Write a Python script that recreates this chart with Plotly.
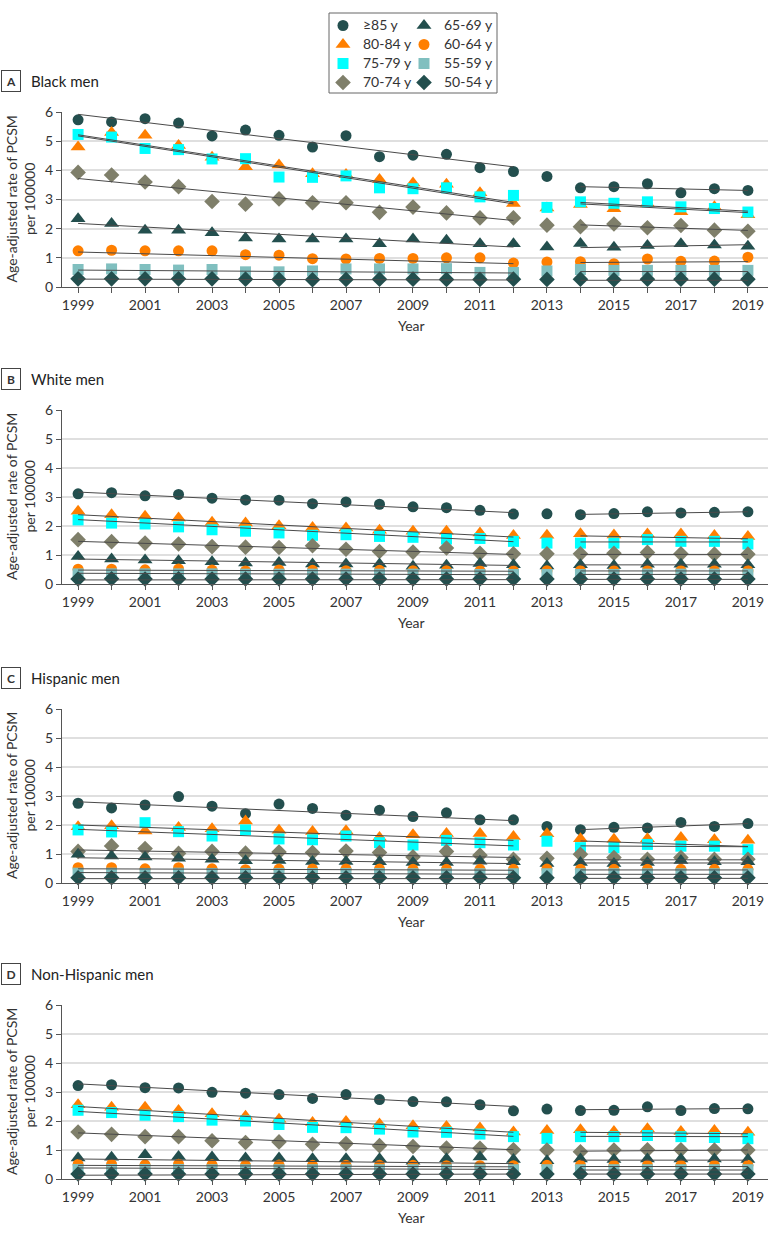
import plotly.graph_objects as go

# ---------------- data ----------------
years = list(range(1999, 2020))
year_labels = [str(y) if y % 2 == 1 else "" for y in years]
age_groups = ["≥85 y", "80-84 y", "75-79 y", "70-74 y", "65-69 y", "60-64 y", "55-59 y", "50-54 y"]
panel_titles = ["Black men", "White men", "Hispanic men", "Non-Hispanic men"]
panel_letters = ["A", "B", "C", "D"]
trend_years_1 = [1999, 2012]
trend_years_2 = [2014, 2019]

# Panel A - Black men
black_85 = [5.73, 5.66, 5.77, 5.62, 5.18, 5.38, 5.20, 4.80, 5.19, 4.47, 4.52, 4.55, 4.09, 3.96, 3.79, 3.40, 3.44, 3.54, 3.23, 3.37, 3.31]
black_80 = [4.80, 5.30, 5.20, 4.85, 4.45, 4.12, 4.18, 3.88, 3.86, 3.69, 3.57, 3.52, 3.23, 2.86, 2.71, 2.83, 2.68, 2.86, 2.58, 2.75, 2.48]
black_75 = [5.23, 5.14, 4.75, 4.71, 4.39, 4.40, 3.77, 3.76, 3.81, 3.40, 3.37, 3.40, 3.09, 3.14, 2.73, 2.92, 2.87, 2.92, 2.75, 2.69, 2.57]
black_70 = [3.93, 3.84, 3.60, 3.44, 2.93, 2.84, 3.02, 2.89, 2.89, 2.56, 2.74, 2.54, 2.37, 2.37, 2.12, 2.07, 2.16, 2.03, 2.11, 1.95, 1.91]
black_65 = [2.34, 2.18, 1.95, 1.95, 1.86, 1.68, 1.65, 1.65, 1.65, 1.48, 1.65, 1.60, 1.48, 1.48, 1.37, 1.49, 1.36, 1.42, 1.48, 1.44, 1.40]
black_60 = [1.24, 1.26, 1.24, 1.24, 1.24, 1.11, 1.09, 0.97, 0.96, 0.98, 0.98, 1.00, 1.00, 0.82, 0.86, 0.87, 0.80, 0.96, 0.88, 0.89, 1.02]
black_55 = [0.60, 0.62, 0.60, 0.58, 0.60, 0.52, 0.52, 0.55, 0.62, 0.62, 0.62, 0.63, 0.50, 0.50, 0.55, 0.60, 0.57, 0.57, 0.57, 0.57, 0.57]
black_50 = [0.28, 0.28, 0.28, 0.28, 0.28, 0.27, 0.26, 0.25, 0.26, 0.27, 0.27, 0.26, 0.26, 0.27, 0.26, 0.27, 0.25, 0.27, 0.27, 0.27, 0.27]
black_trend_1999 = [5.92, 5.18, 5.22, 3.72, 2.18, 1.20, 0.58, 0.27]
black_trend_2012 = [4.12, 2.85, 2.90, 2.28, 1.37, 0.80, 0.48, 0.24]
black_trend_2014 = [3.44, 2.85, 2.90, 2.13, 1.35, 0.84, 0.53, 0.23]
black_trend_2019 = [3.31, 2.55, 2.60, 1.94, 1.45, 0.87, 0.53, 0.23]

# Panel B - White men
white_85 = [3.11, 3.15, 3.04, 3.09, 2.96, 2.90, 2.89, 2.77, 2.83, 2.75, 2.66, 2.63, 2.54, 2.41, 2.42, 2.39, 2.43, 2.49, 2.45, 2.47, 2.49]
white_80 = [2.51, 2.39, 2.34, 2.28, 2.13, 2.10, 2.01, 1.95, 1.93, 1.85, 1.82, 1.82, 1.76, 1.67, 1.68, 1.73, 1.69, 1.72, 1.72, 1.67, 1.64]
white_75 = [2.21, 2.10, 2.07, 1.97, 1.87, 1.82, 1.76, 1.68, 1.70, 1.64, 1.61, 1.55, 1.57, 1.47, 1.41, 1.41, 1.41, 1.53, 1.47, 1.47, 1.38]
white_70 = [1.53, 1.46, 1.41, 1.38, 1.29, 1.27, 1.26, 1.32, 1.20, 1.12, 1.10, 1.24, 1.06, 1.04, 1.04, 1.04, 1.06, 1.09, 1.04, 1.03, 1.03]
white_65 = [0.95, 0.86, 0.83, 0.80, 0.77, 0.72, 0.74, 0.69, 0.69, 0.69, 0.61, 0.65, 0.71, 0.66, 0.62, 0.66, 0.64, 0.68, 0.68, 0.68, 0.66]
white_60 = [0.51, 0.51, 0.49, 0.52, 0.48, 0.45, 0.48, 0.47, 0.46, 0.47, 0.46, 0.46, 0.45, 0.45, 0.46, 0.46, 0.46, 0.46, 0.46, 0.46, 0.46]
white_55 = [0.35, 0.35, 0.35, 0.35, 0.35, 0.34, 0.34, 0.34, 0.34, 0.34, 0.34, 0.33, 0.33, 0.33, 0.33, 0.33, 0.33, 0.34, 0.34, 0.34, 0.34]
white_50 = [0.17, 0.18, 0.17, 0.18, 0.17, 0.17, 0.17, 0.17, 0.17, 0.17, 0.17, 0.17, 0.17, 0.17, 0.17, 0.17, 0.17, 0.17, 0.17, 0.17, 0.17]
white_trend_1999 = [3.17, 2.39, 2.22, 1.47, 0.86, 0.48, 0.37, 0.14]
white_trend_2012 = [2.46, 1.62, 1.46, 1.02, 0.64, 0.44, 0.32, 0.15]
white_trend_2014 = [2.40, 1.66, 1.45, 1.02, 0.66, 0.45, 0.33, 0.16]
white_trend_2019 = [2.49, 1.56, 1.45, 1.02, 0.66, 0.45, 0.33, 0.16]

# Panel C - Hispanic men
hisp_85 = [2.75, 2.59, 2.69, 2.98, 2.65, 2.39, 2.72, 2.57, 2.34, 2.51, 2.29, 2.42, 2.18, 2.18, 1.95, 1.84, 1.92, 1.90, 2.09, 1.95, 2.05]
hisp_80 = [1.94, 1.97, 1.79, 1.91, 1.87, 2.14, 1.82, 1.78, 1.80, 1.57, 1.66, 1.71, 1.71, 1.60, 1.70, 1.53, 1.51, 1.53, 1.57, 1.49, 1.47]
hisp_75 = [1.83, 1.76, 2.08, 1.77, 1.62, 1.83, 1.52, 1.49, 1.62, 1.39, 1.31, 1.47, 1.39, 1.31, 1.44, 1.22, 1.22, 1.33, 1.27, 1.27, 1.15]
hisp_70 = [1.09, 1.28, 1.19, 1.02, 1.09, 1.03, 1.07, 1.05, 1.10, 1.05, 0.90, 1.09, 0.96, 0.82, 0.85, 0.99, 0.88, 0.82, 0.88, 0.82, 0.82]
hisp_65 = [0.99, 0.93, 0.90, 0.85, 0.82, 0.77, 0.78, 0.74, 0.74, 0.73, 0.71, 0.71, 0.75, 0.73, 0.67, 0.71, 0.67, 0.71, 0.78, 0.73, 0.73]
hisp_60 = [0.53, 0.53, 0.49, 0.53, 0.49, 0.46, 0.48, 0.48, 0.48, 0.48, 0.47, 0.47, 0.47, 0.47, 0.48, 0.47, 0.47, 0.47, 0.47, 0.47, 0.47]
hisp_55 = [0.34, 0.34, 0.33, 0.34, 0.33, 0.33, 0.33, 0.33, 0.33, 0.33, 0.32, 0.32, 0.32, 0.32, 0.32, 0.32, 0.32, 0.32, 0.32, 0.32, 0.32]
hisp_50 = [0.18, 0.18, 0.18, 0.18, 0.18, 0.18, 0.18, 0.18, 0.18, 0.18, 0.18, 0.18, 0.18, 0.18, 0.18, 0.18, 0.18, 0.18, 0.18, 0.18, 0.18]
hisp_trend_1999 = [2.80, 2.00, 1.85, 1.14, 0.87, 0.49, 0.36, 0.15]
hisp_trend_2012 = [2.15, 1.47, 1.28, 0.88, 0.67, 0.44, 0.30, 0.15]
hisp_trend_2014 = [1.84, 1.45, 1.28, 0.80, 0.69, 0.45, 0.30, 0.16]
hisp_trend_2019 = [2.05, 1.26, 1.25, 0.80, 0.69, 0.45, 0.30, 0.16]

# Panel D - Non-Hispanic men
nonhisp_85 = [3.22, 3.25, 3.15, 3.14, 2.99, 2.96, 2.91, 2.78, 2.91, 2.74, 2.67, 2.66, 2.56, 2.35, 2.41, 2.36, 2.37, 2.49, 2.36, 2.43, 2.42]
nonhisp_80 = [2.56, 2.47, 2.47, 2.36, 2.25, 2.16, 2.06, 1.95, 1.98, 1.90, 1.84, 1.81, 1.76, 1.62, 1.67, 1.70, 1.64, 1.73, 1.64, 1.67, 1.61]
nonhisp_75 = [2.37, 2.29, 2.20, 2.15, 2.03, 2.00, 1.88, 1.78, 1.77, 1.72, 1.62, 1.61, 1.55, 1.46, 1.40, 1.46, 1.46, 1.50, 1.46, 1.43, 1.39]
nonhisp_70 = [1.62, 1.54, 1.46, 1.46, 1.32, 1.26, 1.28, 1.20, 1.22, 1.15, 1.12, 1.07, 1.06, 1.01, 1.00, 0.94, 1.00, 1.01, 1.01, 1.00, 1.00]
nonhisp_65 = [0.72, 0.75, 0.84, 0.78, 0.76, 0.72, 0.72, 0.70, 0.70, 0.70, 0.61, 0.70, 0.76, 0.67, 0.63, 0.69, 0.67, 0.69, 0.69, 0.69, 0.67]
nonhisp_60 = [0.50, 0.50, 0.49, 0.51, 0.49, 0.47, 0.48, 0.47, 0.47, 0.47, 0.47, 0.46, 0.46, 0.46, 0.47, 0.47, 0.47, 0.47, 0.47, 0.47, 0.47]
nonhisp_55 = [0.33, 0.33, 0.33, 0.33, 0.32, 0.32, 0.32, 0.32, 0.32, 0.32, 0.32, 0.32, 0.32, 0.32, 0.32, 0.32, 0.32, 0.32, 0.32, 0.32, 0.32]
nonhisp_50 = [0.17, 0.17, 0.17, 0.17, 0.17, 0.17, 0.17, 0.17, 0.17, 0.17, 0.17, 0.17, 0.17, 0.17, 0.17, 0.17, 0.17, 0.17, 0.17, 0.17, 0.17]
nonhisp_trend_1999 = [3.28, 2.50, 2.33, 1.59, 0.69, 0.47, 0.38, 0.13]
nonhisp_trend_2012 = [2.50, 1.61, 1.47, 1.01, 0.53, 0.42, 0.33, 0.17]
nonhisp_trend_2014 = [2.39, 1.61, 1.47, 0.96, 0.65, 0.43, 0.31, 0.17]
nonhisp_trend_2019 = [2.43, 1.56, 1.46, 1.00, 0.65, 0.43, 0.31, 0.17]

# ---------------- styling ----------------
DARK = "#234f4e"
ORANGE = "#ff7f00"
CYAN = "#00ffff"
LTEAL = "#80bfbf"
OLIVE = "#7f7f6a"
colors = [DARK, ORANGE, CYAN, OLIVE, DARK, ORANGE, LTEAL, DARK]
symbols = ["circle", "triangle-up", "square", "diamond", "triangle-up", "circle", "square", "diamond"]
sizes = [11, 13, 11, 12, 13, 11, 11, 12]
legend_ids = ["legend", "legend", "legend", "legend", "legend2", "legend2", "legend2", "legend2"]
FONT = "Lato"
TXT = "#333333"

panels = [
    ([black_85, black_80, black_75, black_70, black_65, black_60, black_55, black_50],
     black_trend_1999, black_trend_2012, black_trend_2014, black_trend_2019),
    ([white_85, white_80, white_75, white_70, white_65, white_60, white_55, white_50],
     white_trend_1999, white_trend_2012, white_trend_2014, white_trend_2019),
    ([hisp_85, hisp_80, hisp_75, hisp_70, hisp_65, hisp_60, hisp_55, hisp_50],
     hisp_trend_1999, hisp_trend_2012, hisp_trend_2014, hisp_trend_2019),
    ([nonhisp_85, nonhisp_80, nonhisp_75, nonhisp_70, nonhisp_65, nonhisp_60, nonhisp_55, nonhisp_50],
     nonhisp_trend_1999, nonhisp_trend_2012, nonhisp_trend_2014, nonhisp_trend_2019),
]

W, H = 783, 1237
x_left, x_right = 62, 768
panel_top_px = [112, 410, 709, 1005]
panel_bot_px = [287, 584, 883, 1179]

def py(p):
    return 1 - p / H

def px(p):
    return p / W

fig = go.Figure()

for i, (series, t99, t12, t14, t19) in enumerate(panels):
    ax = "" if i == 0 else str(i + 1)
    xref, yref = "x" + ax, "y" + ax
    for j, vals in enumerate(series):
        fig.add_trace(go.Scatter(
            x=years, y=vals, mode="markers", xaxis=xref, yaxis=yref,
            name='<span style="font-size:14px">' + age_groups[j] + "</span>",
            legend=legend_ids[j],
            showlegend=(i == 0), cliponaxis=False,
            marker=dict(symbol=symbols[j], color=colors[j], size=sizes[j], line=dict(width=0)),
        ))
    for j in range(len(series)):
        fig.add_trace(go.Scatter(
            x=trend_years_1 + [None] + trend_years_2,
            y=[t99[j], t12[j], None, t14[j], t19[j]],
            mode="lines", xaxis=xref, yaxis=yref, showlegend=False, hoverinfo="skip",
            line=dict(color="#4a4a4a", width=1),
        ))

    fig.layout["xaxis" + ax] = dict(
        domain=[px(x_left), px(x_right)], anchor=yref,
        range=[1998.52, 2019.6], tickmode="array", tickvals=years, ticktext=year_labels,
        ticks="outside", ticklen=5, tickcolor="#555", tickwidth=1,
        showline=True, linecolor="#555", linewidth=1, showgrid=False, zeroline=False,
        tickfont=dict(family=FONT, size=14, color=TXT), automargin=False,
    )
    fig.layout["yaxis" + ax] = dict(
        domain=[py(panel_bot_px[i]), py(panel_top_px[i])], anchor=xref,
        range=[0, 6], tickmode="array", tickvals=[0, 1, 2, 3, 4, 5, 6],
        ticks="outside", ticklen=5, tickcolor="#555", tickwidth=1,
        showline=True, linecolor="#555", linewidth=1,
        showgrid=True, gridcolor="#dfdfdf", gridwidth=2, zeroline=False,
        tickfont=dict(family=FONT, size=14, color=TXT), automargin=False,
    )

    top = panel_top_px[i]
    bot = panel_bot_px[i]
    fig.add_annotation(xref="paper", yref="paper", x=px(11), y=py(top - 31),
                       text="<b>" + panel_letters[i] + "</b>", showarrow=False,
                       xanchor="center", yanchor="middle",
                       font=dict(family=FONT, size=12, color=TXT),
                       bordercolor="#444", borderwidth=1, borderpad=2.5, width=13)
    fig.add_annotation(xref="paper", yref="paper", x=px(29), y=py(top - 31),
                       text=panel_titles[i], showarrow=False,
                       xanchor="left", yanchor="middle",
                       font=dict(family=FONT, size=15, color="#222"))
    fig.add_annotation(xref="paper", yref="paper", x=px(20), y=py((top + bot) / 2),
                       text="Age-adjusted rate of PCSM<br>per 100000", showarrow=False,
                       textangle=-90, xanchor="center", yanchor="middle",
                       font=dict(family=FONT, size=14, color=TXT))
    fig.add_annotation(xref="paper", yref="paper", x=px(411), y=py(bot + 38),
                       text="Year", showarrow=False, xanchor="center", yanchor="middle",
                       font=dict(family=FONT, size=14, color=TXT))

# legend frame
fig.add_shape(type="rect", xref="paper", yref="paper",
              x0=px(329), x1=px(497), y0=py(93), y1=py(13),
              line=dict(color="#666", width=1), fillcolor="rgba(0,0,0,0)")

legend_common = dict(
    orientation="v", yanchor="top", xanchor="left", bgcolor="rgba(0,0,0,0)",
    borderwidth=0, font=dict(family=FONT, size=12, color=TXT),
    itemsizing="trace", itemwidth=30, tracegroupgap=0,
)

fig.update_layout(
    width=W, height=H, autosize=False,
    margin=dict(l=0, r=0, t=0, b=0, pad=0, autoexpand=False),
    paper_bgcolor="white", plot_bgcolor="white",
    font=dict(family=FONT, color=TXT),
    legend=dict(x=px(323), y=py(11), **legend_common),
    legend2=dict(x=px(404), y=py(11), **legend_common),
)

fig.write_html("out.html", config={"displayModeBar": False},
               post_script="document.body.style.margin='0px';")
